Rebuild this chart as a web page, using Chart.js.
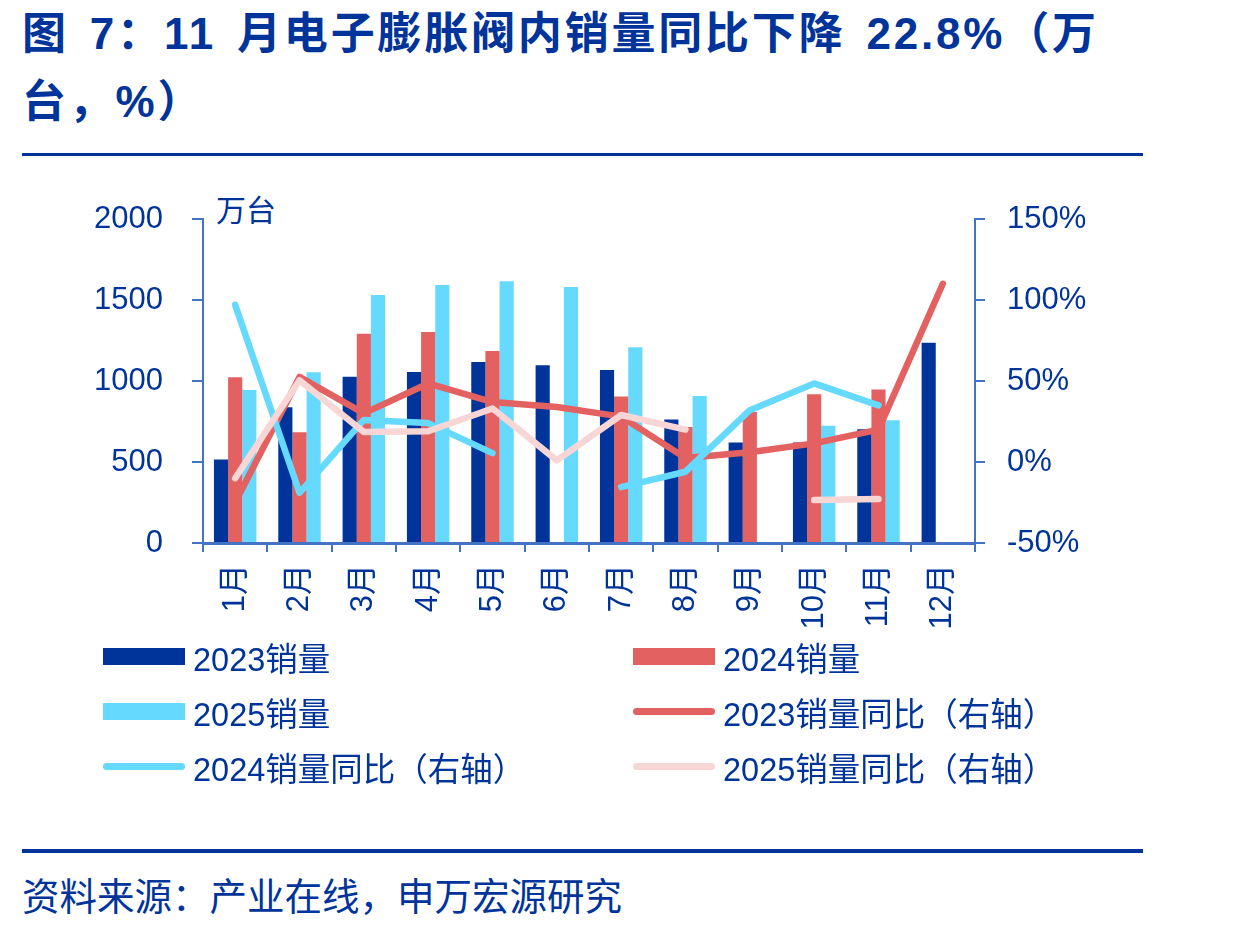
<!DOCTYPE html>
<html>
<head>
<meta charset="utf-8">
<script src="https://cdn.jsdelivr.net/npm/chart.js@4.4.1/dist/chart.umd.min.js"></script>
<style>
  body { margin: 0; background: #fff; width: 1251px; height: 927px; position: relative; overflow: hidden;
         font-family: "Liberation Sans", "Noto Sans CJK SC", sans-serif; color: #00349a; }
  #title { position: absolute; left: 22px; top: 0px; font-size: 44px; font-weight: bold; line-height: 68px;
           letter-spacing: 2.8px; word-spacing: 6px; white-space: nowrap; }
  .rule { position: absolute; left: 22px; width: 1121px; background: #00349a; }
  #unit { position: absolute; left: 216px; top: 186px; font-size: 30px; }
  #chartBox { position: absolute; left: 0; top: 170px; width: 1251px; height: 470px; }
  #legend { position: absolute; left: 0; top: 630px; width: 1251px; height: 170px; }
  .item { position: absolute; height: 40px; display: flex; align-items: center; font-size: 32.5px; white-space: nowrap; }
  .mark { width: 82px; margin-right: 8px; }
  #source { position: absolute; left: 22px; top: 866px; font-size: 37.5px; }
</style>
</head>
<body>
<div id="title">图 7：11 月电子膨胀阀内销量同比下降 22.8%（万<br>台，%）</div>
<div class="rule" style="top:153px;height:3px;"></div>
<div id="unit">万台</div>
<div id="chartBox"><canvas id="chart"></canvas></div>
<div id="legend"></div>
<div class="rule" style="top:849px;height:4px;"></div>
<div id="source">资料来源：产业在线，申万宏源研究</div>

<script>
const months = ['1月', '2月', '3月', '4月', '5月', '6月', '7月', '8月', '9月', '10月', '11月', '12月'];

// 销量（万台）
const sales2023 = [515, 838, 1027, 1056, 1117, 1097, 1068, 763, 621, 621, 702, 1236];
const sales2024 = [1023, 683, 1292, 1302, 1185, null, 905, 716, 808, 918, 947, null];
const sales2025 = [944, 1054, 1531, 1593, 1615, 1580, 1208, 907, null, 724, 757, null];

// 同比（%，右轴）
const yoy2023 = [-25, 52.5, 30, 48.5, 37, 34, 28, 2.5, 6, 11.5, 20, 110];
const yoy2024 = [97, -19, 26, 24, 5.5, null, -15.5, -6, 32, 48.5, 35, null];
const yoy2025 = [-10, 50.5, 18.5, 19, 33, 1, 29, 20, null, -23.5, -22.8, null];

const navy = '#00349a';
const red = '#e46161';
const cyan = '#66d9ff';
const pink = '#f8d6d6';
const axisBlue = '#4472c4';
const fontFamily = '"Liberation Sans", "Noto Sans CJK SC", sans-serif';

function barSet(label, data, color) {
  return { type: 'bar', label, data, backgroundColor: color, yAxisID: 'y', order: 10,
           barPercentage: 1, categoryPercentage: 0.66, kind: 'bar' };
}
function lineSet(label, data, color, order) {
  return { type: 'line', label, data, borderColor: color, backgroundColor: color, yAxisID: 'y1', order,
           borderWidth: 6.5, pointRadius: 0, tension: 0, spanGaps: false,
           borderCapStyle: 'round', borderJoinStyle: 'round', kind: 'line' };
}

const datasets = [
  barSet('2023销量', sales2023, navy),
  barSet('2024销量', sales2024, red),
  barSet('2025销量', sales2025, cyan),
  lineSet('2023销量同比（右轴）', yoy2023, red, 3),
  lineSet('2024销量同比（右轴）', yoy2024, cyan, 2),
  lineSet('2025销量同比（右轴）', yoy2025, pink, 1)
];

new Chart(document.getElementById('chart'), {
  data: { labels: months, datasets },
  options: {
    responsive: true,
    maintainAspectRatio: false,
    animation: false,
    layout: { padding: { top: 49, left: 0, right: 0, bottom: 0 } },
    plugins: { legend: { display: false }, tooltip: { enabled: false } },
    scales: {
      x: {
        offset: true,
        grid: { display: true, offset: true, drawOnChartArea: false, drawTicks: true, tickLength: 9,
                color: axisBlue, lineWidth: 2 },
        border: { display: true, color: axisBlue, width: 3 },
        ticks: { color: navy, font: { family: fontFamily, size: 31 }, minRotation: 90, maxRotation: 90,
                 padding: 12, autoSkip: false },
        afterFit: (s) => { s.height = 97; }
      },
      y: {
        position: 'left', min: 0, max: 2000,
        grid: { display: true, drawOnChartArea: false, drawTicks: true, tickLength: 11, color: axisBlue, lineWidth: 2 },
        border: { display: true, color: axisBlue, width: 2 },
        ticks: { stepSize: 500, color: navy, font: { family: fontFamily, size: 31 }, padding: 29,
                 callback: (v) => String(v) },
        afterFit: (s) => { s.width = 203; }
      },
      y1: {
        position: 'right', min: -50, max: 150,
        grid: { display: true, drawOnChartArea: false, drawTicks: true, tickLength: 10, color: axisBlue, lineWidth: 2 },
        border: { display: true, color: axisBlue, width: 2 },
        ticks: { stepSize: 50, color: navy, font: { family: fontFamily, size: 31 }, padding: 22,
                 callback: (v) => v + '%' },
        afterFit: (s) => { s.width = 276; }
      }
    }
  }
});

// legend: two columns, three rows
const legend = document.getElementById('legend');
const colX = [103, 633];
const rowY = [6, 61, 116];
datasets.forEach((ds, i) => {
  const item = document.createElement('div');
  item.className = 'item';
  item.style.left = colX[i % 2] + 'px';
  item.style.top = rowY[Math.floor(i / 2)] + 'px';
  const mark = document.createElement('div');
  mark.className = 'mark';
  if (ds.kind === 'bar') {
    mark.style.height = '17px';
    mark.style.background = ds.backgroundColor;
  } else {
    mark.style.height = '7px';
    mark.style.borderRadius = '4px';
    mark.style.background = ds.borderColor;
  }
  item.appendChild(mark);
  item.appendChild(document.createTextNode(ds.label));
  legend.appendChild(item);
});
</script>
</body>
</html>
